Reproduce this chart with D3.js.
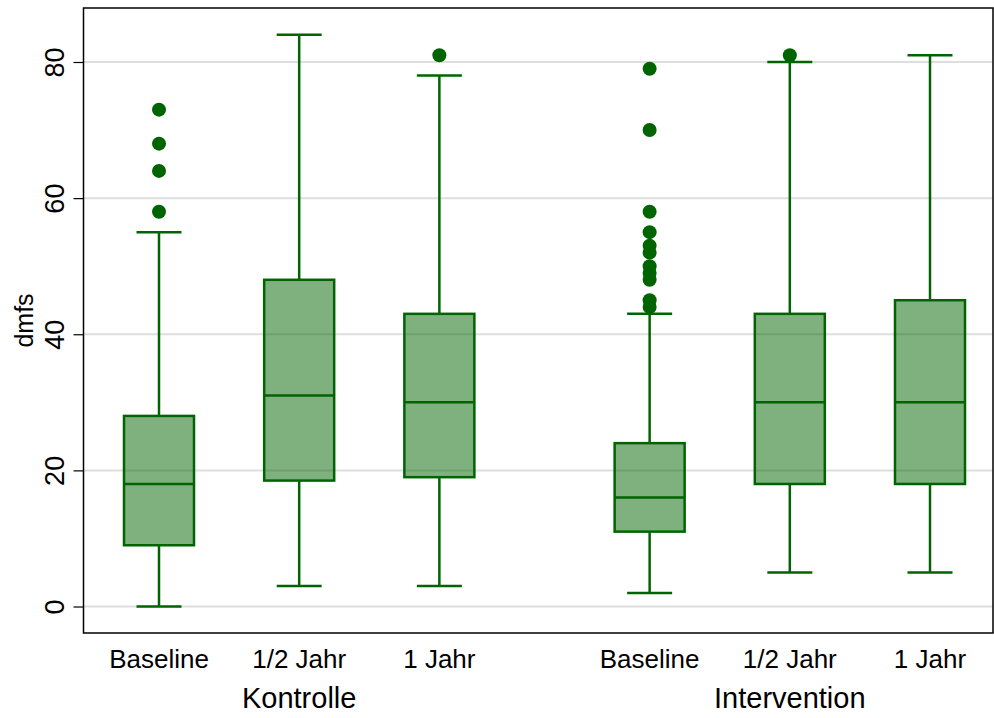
<!DOCTYPE html>
<html>
<head>
<meta charset="utf-8">
<script src="https://cdn.jsdelivr.net/npm/d3@7"></script>
<style>
  body { margin: 0; background: #fff; }
  text { font-family: "Liberation Sans", Arial, sans-serif; fill: #000; }
</style>
</head>
<body>
<div id="chart-area"></div>
<script>
// data
var groups = ["Kontrolle", "Intervention"]
var times = ["Baseline", "1/2 Jahr", "1 Jahr"]
var groupOf   = [0, 0, 0, 1, 1, 1]
var whiskLow  = [0, 3, 3, 2, 5, 5]
var q1        = [9, 18.5, 19, 11, 18, 18]
var median    = [18, 31, 30, 16, 30, 30]
var q3        = [28, 48, 43, 24, 43, 45]
var whiskHigh = [55, 84, 78, 43, 80, 81]
var outliers  = [
  [58, 64, 68, 73],
  [],
  [81],
  [44, 45, 48, 49, 50, 52, 53, 55, 58, 70, 79],
  [81],
  []
]
var yTicks = [0, 20, 40, 60, 80]

var width = 994
var height = 718
var plot = {left: 83.5, right: 993, top: 8, bottom: 633}

var green = "#006400"

var svg = d3.select("#chart-area").append("svg")
  .attr("width", width)
  .attr("height", height)

// slot position: index plus half a slot of gap per group
var slot = times.length
var boxes = groupOf.map((g, i) => ({
  i: i,
  pos: i + g * 0.5,
  label: times[i % slot],
  lo: whiskLow[i], q1: q1[i], med: median[i], q3: q3[i], hi: whiskHigh[i],
  out: outliers[i]
}))

var x = d3.scaleLinear()
  .domain([0, 5.5])
  .range([159, 930])

var y = d3.scaleLinear()
  .domain([0, 80])
  .range([606.5, 62])

var boxW = 70
var capW = 45

// grid
svg.append("g")
  .selectAll("line")
  .data(yTicks)
  .enter().append("line")
  .attr("x1", plot.left)
  .attr("x2", plot.right)
  .attr("y1", d => y(d))
  .attr("y2", d => y(d))
  .attr("stroke", "#dedede")
  .attr("stroke-width", 2)

// y axis
var yAxis = d3.axisLeft(y).tickValues(yTicks).tickSize(10).tickPadding(0)
var yAxisGroup = svg.append("g")
  .attr("transform", "translate(" + plot.left + ",0)")
  .call(yAxis)
yAxisGroup.select(".domain").remove()
yAxisGroup.selectAll(".tick line").attr("stroke", "#000").attr("stroke-width", 1.2)
yAxisGroup.selectAll(".tick text")
  .attr("x", null).attr("dy", null)
  .attr("transform", "translate(-20,0) rotate(-90)")
  .attr("text-anchor", "middle")
  .attr("font-size", "27px")
  .style("font-family", "'Liberation Sans', Arial, sans-serif")

// y label
svg.append("text")
  .attr("transform", "translate(33," + ((plot.top + plot.bottom) / 2) + ") rotate(-90)")
  .attr("text-anchor", "middle")
  .attr("font-size", "25px")
  .text("dmfs")

// boxes
var bg = svg.append("g").selectAll("g")
  .data(boxes)
  .enter().append("g")
  .attr("transform", d => "translate(" + x(d.pos) + ",0)")

bg.append("line")
  .attr("y1", d => y(d.q3)).attr("y2", d => y(d.hi))
  .attr("stroke", green).attr("stroke-width", 2.5)
bg.append("line")
  .attr("y1", d => y(d.q1)).attr("y2", d => y(d.lo))
  .attr("stroke", green).attr("stroke-width", 2.5)
bg.append("line")
  .attr("x1", -capW / 2).attr("x2", capW / 2)
  .attr("y1", d => y(d.hi)).attr("y2", d => y(d.hi))
  .attr("stroke", green).attr("stroke-width", 2.5)
bg.append("line")
  .attr("x1", -capW / 2).attr("x2", capW / 2)
  .attr("y1", d => y(d.lo)).attr("y2", d => y(d.lo))
  .attr("stroke", green).attr("stroke-width", 2.5)

bg.append("rect")
  .attr("x", -boxW / 2)
  .attr("width", boxW)
  .attr("y", d => y(d.q3))
  .attr("height", d => y(d.q1) - y(d.q3))
  .attr("fill", green).attr("fill-opacity", 0.5)
  .attr("stroke", green).attr("stroke-width", 2.5)

bg.append("line")
  .attr("x1", -boxW / 2).attr("x2", boxW / 2)
  .attr("y1", d => y(d.med)).attr("y2", d => y(d.med))
  .attr("stroke", green).attr("stroke-width", 2.5)

bg.selectAll("circle")
  .data(d => d.out)
  .enter().append("circle")
  .attr("cy", v => y(v))
  .attr("r", 7)
  .attr("fill", green)

// category labels
svg.append("g").selectAll("text")
  .data(boxes)
  .enter().append("text")
  .attr("x", d => x(d.pos))
  .attr("y", 668)
  .attr("text-anchor", "middle")
  .attr("font-size", "26px")
  .text(d => d.label)

// group labels
svg.append("g").selectAll("text")
  .data(groups)
  .enter().append("text")
  .attr("x", (d, g) => x(1 + g * (slot + 0.5)))
  .attr("y", 708)
  .attr("text-anchor", "middle")
  .attr("font-size", "29px")
  .text(d => d)

// frame
svg.append("rect")
  .attr("x", plot.left)
  .attr("y", plot.top)
  .attr("width", plot.right - plot.left)
  .attr("height", plot.bottom - plot.top)
  .attr("fill", "none")
  .attr("stroke", "#000")
  .attr("stroke-width", 1.5)
</script>
</body>
</html>
